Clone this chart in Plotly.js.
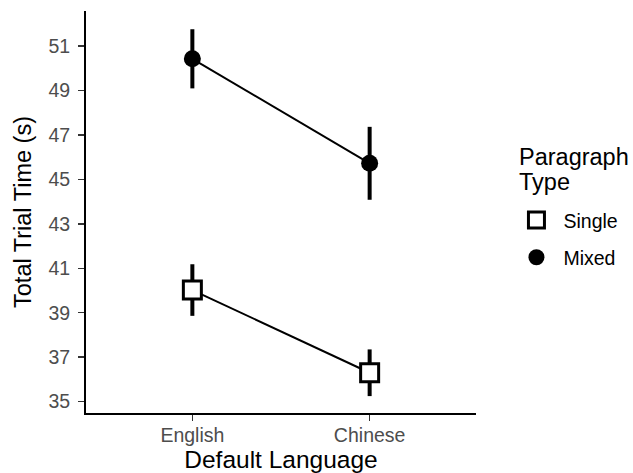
<!DOCTYPE html>
<html>
<head>
<meta charset="utf-8">
<script src="https://cdn.plot.ly/plotly-3.0.1.min.js"></script>
<style>html,body{margin:0;padding:0;background:#fff;}#chart{width:633px;height:473px;}</style>
</head>
<body>
<div id="chart"></div>
<script>
const languages = ["English", "Chinese"];
const singleMeans = [40.02, 36.30];
const singleErr = [1.16, 1.05];
const mixedMeans = [50.42, 45.72];
const mixedErr = [1.33, 1.64];
const yTicks = [35, 37, 39, 41, 43, 45, 47, 49, 51];
const legendTitleLines = ["Paragraph", "Type"];

const font = "'Liberation Sans', Arial, Helvetica, sans-serif";

const traces = [
  {x: languages, y: mixedMeans, mode: "lines", line: {color: "#000", width: 2}, showlegend: false, hoverinfo: "skip"},
  {x: languages, y: singleMeans, mode: "lines", line: {color: "#000", width: 2}, showlegend: false, hoverinfo: "skip"},
  {x: languages, y: singleMeans, name: "Single", legendgroup: "single", mode: "markers", type: "scatter",
   marker: {symbol: "square", size: 18, color: "#fff", line: {color: "#000", width: 3}},
   error_y: {type: "data", array: singleErr, visible: true, thickness: 4, width: 0, color: "#000"}},
  {x: languages, y: mixedMeans, name: "Mixed", legendgroup: "mixed", mode: "markers", type: "scatter",
   marker: {symbol: "circle", size: 17, color: "#000", line: {color: "#000", width: 0}},
   error_y: {type: "data", array: mixedErr, visible: true, thickness: 4, width: 0, color: "#000"}}
];

const layout = {
  width: 633, height: 473,
  margin: {l: 86, r: 156, t: 11, b: 60},
  paper_bgcolor: "#fff", plot_bgcolor: "#fff",
  font: {family: font, color: "#000"},
  xaxis: {
    type: "category", range: [-0.6, 1.6],
    showgrid: false, zeroline: false,
    showline: true, linecolor: "#000", linewidth: 2,
    ticks: "outside", ticklen: 6, tickwidth: 1.5, tickcolor: "#333",
    tickfont: {size: 19.5, color: "#4d4d4d", family: font},
    ticklabelstandoff: -2,
    title: {text: "Default Language", font: {size: 24.5, color: "#000", family: font}, standoff: 5}
  },
  yaxis: {
    range: [34.49, 52.57],
    tickvals: yTicks, ticktext: yTicks.map(String),
    showgrid: false, zeroline: false,
    showline: true, linecolor: "#000", linewidth: 2,
    ticks: "outside", ticklen: 6, tickwidth: 1.5, tickcolor: "#333",
    tickfont: {size: 19.5, color: "#4d4d4d", family: font},
    ticklabelstandoff: 4,
    title: {text: "Total Trial Time (s)", font: {size: 23.5, color: "#000", family: font}, standoff: 10}
  },
  legend: {
    x: 1.083, y: 0.528, xanchor: "left", yanchor: "top",
    font: {size: 19.5, family: font, color: "#000"},
    traceorder: "grouped", tracegroupgap: 9, itemwidth: 44,
    bgcolor: "rgba(0,0,0,0)"
  },
  annotations: [
    {text: legendTitleLines[0], xref: "paper", yref: "paper", x: 1.105, y: (413 - 157) / 402,
     xanchor: "left", yanchor: "middle", showarrow: false, font: {size: 23.5, family: font, color: "#000"}},
    {text: legendTitleLines[1], xref: "paper", yref: "paper", x: 1.105, y: (413 - 182) / 402,
     xanchor: "left", yanchor: "middle", showarrow: false, font: {size: 23.5, family: font, color: "#000"}}
  ],
  showlegend: true
};

Plotly.newPlot("chart", traces, layout, {staticPlot: true, displayModeBar: false});
</script>
</body>
</html>
